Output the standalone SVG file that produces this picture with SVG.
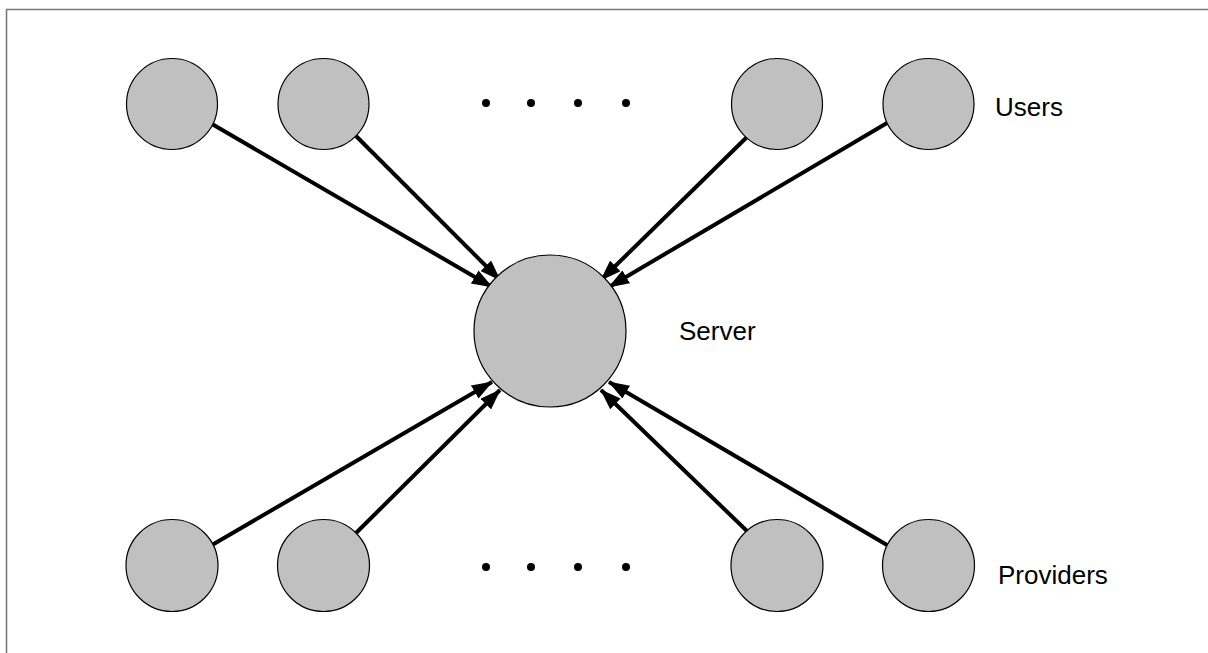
<svg xmlns="http://www.w3.org/2000/svg" width="1208" height="653" viewBox="0 0 1208 653">
<style>
.node{fill:#c0c0c0;stroke:#000;stroke-width:1.2}
.dot{fill:#000}
.lbl{font-family:"Liberation Sans",Arial,sans-serif;font-size:26px;fill:#000}
.edge{stroke:#000;stroke-width:4;fill:none;marker-end:url(#ah)}
</style>
<defs>
<marker id="ah" markerUnits="userSpaceOnUse" markerWidth="21" markerHeight="15" viewBox="0 0 21 15" refX="20" refY="7.5" orient="auto">
<path d="M0,0 L21,7.5 L0,15 Z" fill="#000"/>
</marker>
</defs>
<rect width="1208" height="653" fill="#fff"/>
<path d="M6.5,653 V9.5 H1208" fill="none" stroke="#7a7a7a" stroke-width="1.6"/>
<g id="connectors">
<line class="edge" x1="212" y1="124" x2="492" y2="287"/>
<line class="edge" x1="355" y1="135" x2="500" y2="280"/>
<line class="edge" x1="747" y1="137" x2="601" y2="280"/>
<line class="edge" x1="887" y1="123" x2="609" y2="287"/>
<line class="edge" x1="212" y1="545" x2="492" y2="382"/>
<line class="edge" x1="355" y1="534" x2="500" y2="390"/>
<line class="edge" x1="748" y1="532" x2="601" y2="390"/>
<line class="edge" x1="887" y1="545" x2="609" y2="382"/>
</g>
<g id="user1"><circle class="node" cx="172" cy="104" r="45.5"/></g>
<g id="user2"><circle class="node" cx="323.5" cy="104" r="45.5"/></g>
<g id="user3"><circle class="node" cx="777" cy="104" r="45.5"/></g>
<g id="user4"><circle class="node" cx="928.5" cy="104" r="45.5"/></g>
<g id="provider1"><circle class="node" cx="172" cy="565.5" r="46"/></g>
<g id="provider2"><circle class="node" cx="323.5" cy="565.5" r="46"/></g>
<g id="provider3"><circle class="node" cx="777" cy="565.5" r="46"/></g>
<g id="provider4"><circle class="node" cx="928.5" cy="565.5" r="46"/></g>
<g id="server"><circle class="node" cx="550" cy="331" r="76"/></g>
<g id="dots-top">
<circle class="dot" cx="486" cy="103" r="4"/>
<circle class="dot" cx="531" cy="103" r="4"/>
<circle class="dot" cx="578" cy="103" r="4"/>
<circle class="dot" cx="626" cy="103" r="4"/>
</g>
<g id="dots-bottom">
<circle class="dot" cx="486" cy="567" r="4"/>
<circle class="dot" cx="531" cy="567" r="4"/>
<circle class="dot" cx="578" cy="567" r="4"/>
<circle class="dot" cx="626" cy="567" r="4"/>
</g>
<g id="labels">
<text class="lbl" x="995" y="116">Users</text>
<text class="lbl" x="679" y="340">Server</text>
<text class="lbl" x="998" y="584">Providers</text>
</g>
</svg>
